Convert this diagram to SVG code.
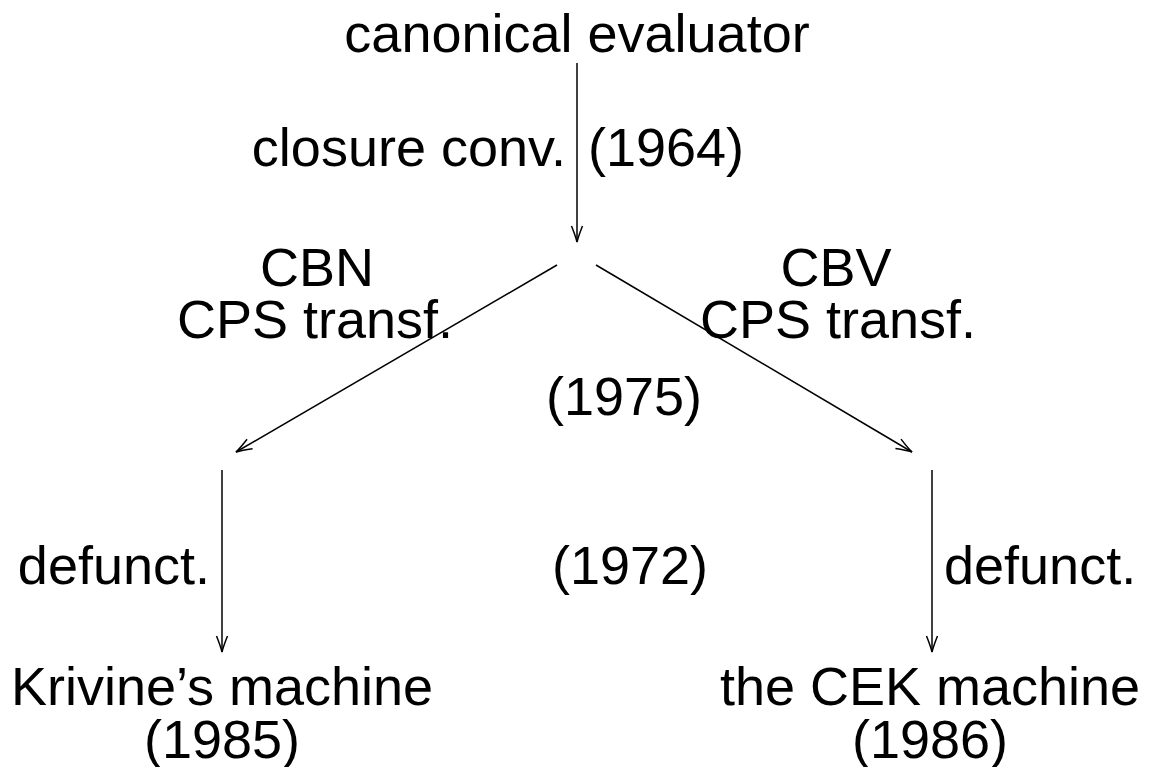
<svg xmlns="http://www.w3.org/2000/svg" width="1149" height="767" viewBox="0 0 1149 767">
  <style>
    text { font-family: "Liberation Sans", Arial, sans-serif; font-size: 54px; fill: #000; }
    .m { text-anchor: middle; }
    .e { text-anchor: end; }
    .edge { stroke: #000; stroke-width: 1.5; fill: none; }
  </style>
  <defs>
    <marker id="vhead" viewBox="-17 -7 19 14" refX="0" refY="0" markerWidth="19" markerHeight="14" markerUnits="userSpaceOnUse" orient="auto">
      <path d="M -16 -5.5 Q -6 -1.5 0 0 Q -6 1.5 -16 5.5" fill="none" stroke="#000" stroke-width="1.5"/>
    </marker>
  </defs>
  <rect width="1149" height="767" fill="#fff"/>

  <g id="node-canonical"><text class="m" x="577" y="52">canonical evaluator</text></g>
  <g id="node-cbn-label"><text class="m" x="317" y="286">CBN</text><text class="m" x="315" y="338">CPS transf.</text></g>
  <g id="node-cbv-label"><text class="m" x="836" y="286">CBV</text><text class="m" x="838" y="338">CPS transf.</text></g>
  <g id="node-krivine"><text class="m" x="222" y="705">Krivine’s machine</text><text class="m" x="222" y="758">(1985)</text></g>
  <g id="node-cek"><text class="m" x="930" y="705">the CEK machine</text><text class="m" x="930" y="758">(1986)</text></g>

  <g id="connectors">
    <line class="edge" x1="577" y1="63" x2="577" y2="242" marker-end="url(#vhead)"/>
    <line class="edge" x1="557" y1="265" x2="236" y2="452" marker-end="url(#vhead)"/>
    <line class="edge" x1="596" y1="265" x2="912" y2="452" marker-end="url(#vhead)"/>
    <line class="edge" x1="222" y1="470" x2="222" y2="652" marker-end="url(#vhead)"/>
    <line class="edge" x1="932" y1="470" x2="932" y2="652" marker-end="url(#vhead)"/>
  </g>

  <g id="edge-labels">
    <text class="e" x="566" y="166">closure conv.</text>
    <text x="588" y="166">(1964)</text>
    <text class="m" x="624" y="415">(1975)</text>
    <text class="e" x="210" y="584">defunct.</text>
    <text x="944" y="584">defunct.</text>
    <text class="m" x="630" y="584">(1972)</text>
  </g>
</svg>
